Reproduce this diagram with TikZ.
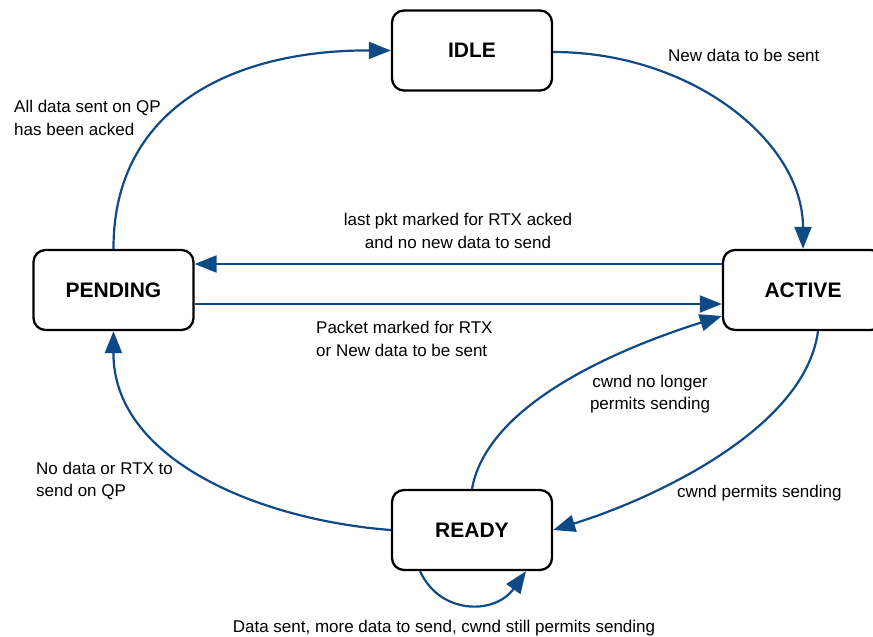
\documentclass[tikz,border=0pt]{standalone}
\usepackage{fontspec}
\setmainfont{Liberation Sans}
\usetikzlibrary{arrows.meta}
\definecolor{edgeblue}{RGB}{14,74,134}
\tikzset{
  state/.style={draw=black, line width=2.3pt, rounded corners=12pt, fill=white,
    minimum width=160pt, minimum height=80pt, inner sep=0pt,
    font=\fontsize{21}{25}\selectfont\bfseries},
  conn/.style={draw=edgeblue, line width=2.2pt, -{Triangle[length=22pt,width=17pt]}},
  lbl/.style={font=\fontsize{17}{22.5}\selectfont, inner sep=0pt}
}
\begin{document}
\begin{tikzpicture}[x=1pt,y=-1pt]
\useasboundingbox (0,0) rectangle (873,637);
\begin{scope}
\clip (0,0) rectangle (873,637);
\node[state] (idle) at (472,50.5) {IDLE};
\node[state] (pending) at (113.5,290) {PENDING};
\node[state] (active) at (803,290) {ACTIVE};
\node[state] (ready) at (472,530) {READY};
\end{scope}

\draw[conn] (pending.north) .. controls (113,110) and (230,50) .. (idle.west);
\draw[conn] (idle.east |- 0,52) .. controls (691,52) and (803,141) .. (active.north);
\draw[conn] (active.west |- 0,264) -- (pending.east |- 0,264);
\draw[conn] (pending.east |- 0,304) -- (active.west |- 0,304);
\draw[conn] (ready.north) .. controls (488,400) and (630,345) .. (active.west |- 0,316);
\draw[conn] (active.south -| 818,0) .. controls (805,430) and (650,500) .. (ready.east);
\draw[conn] (ready.west) .. controls (260,520) and (113,460) .. (pending.south);
\draw[conn] (ready.south -| 420,0) .. controls (440,615) and (495,615) .. (ready.south -| 526,0);

\node[lbl, anchor=west, align=left] (l1) at (14,118) {All data sent on QP\\has been acked};
\node[lbl, anchor=west] (l2) at (668,55) {New data to be sent};
\node[lbl, align=center] (l3) at (458,231) {last pkt marked for RTX acked\\and no new data to send};
\node[lbl, anchor=west, align=left] (l4) at (316,339) {Packet marked for RTX\\or New data to be sent};
\node[lbl, align=center] (l5) at (650,394) {cwnd no longer\\permits sending};
\node[lbl, anchor=west, align=left] (l6) at (36,481) {No data or RTX to\\send on QP};
\node[lbl, anchor=west] (l7) at (677,493) {cwnd permits sending};
\node[lbl] (l8) at (444,628) {Data sent, more data to send, cwnd still permits sending};
\end{tikzpicture}
\end{document}
